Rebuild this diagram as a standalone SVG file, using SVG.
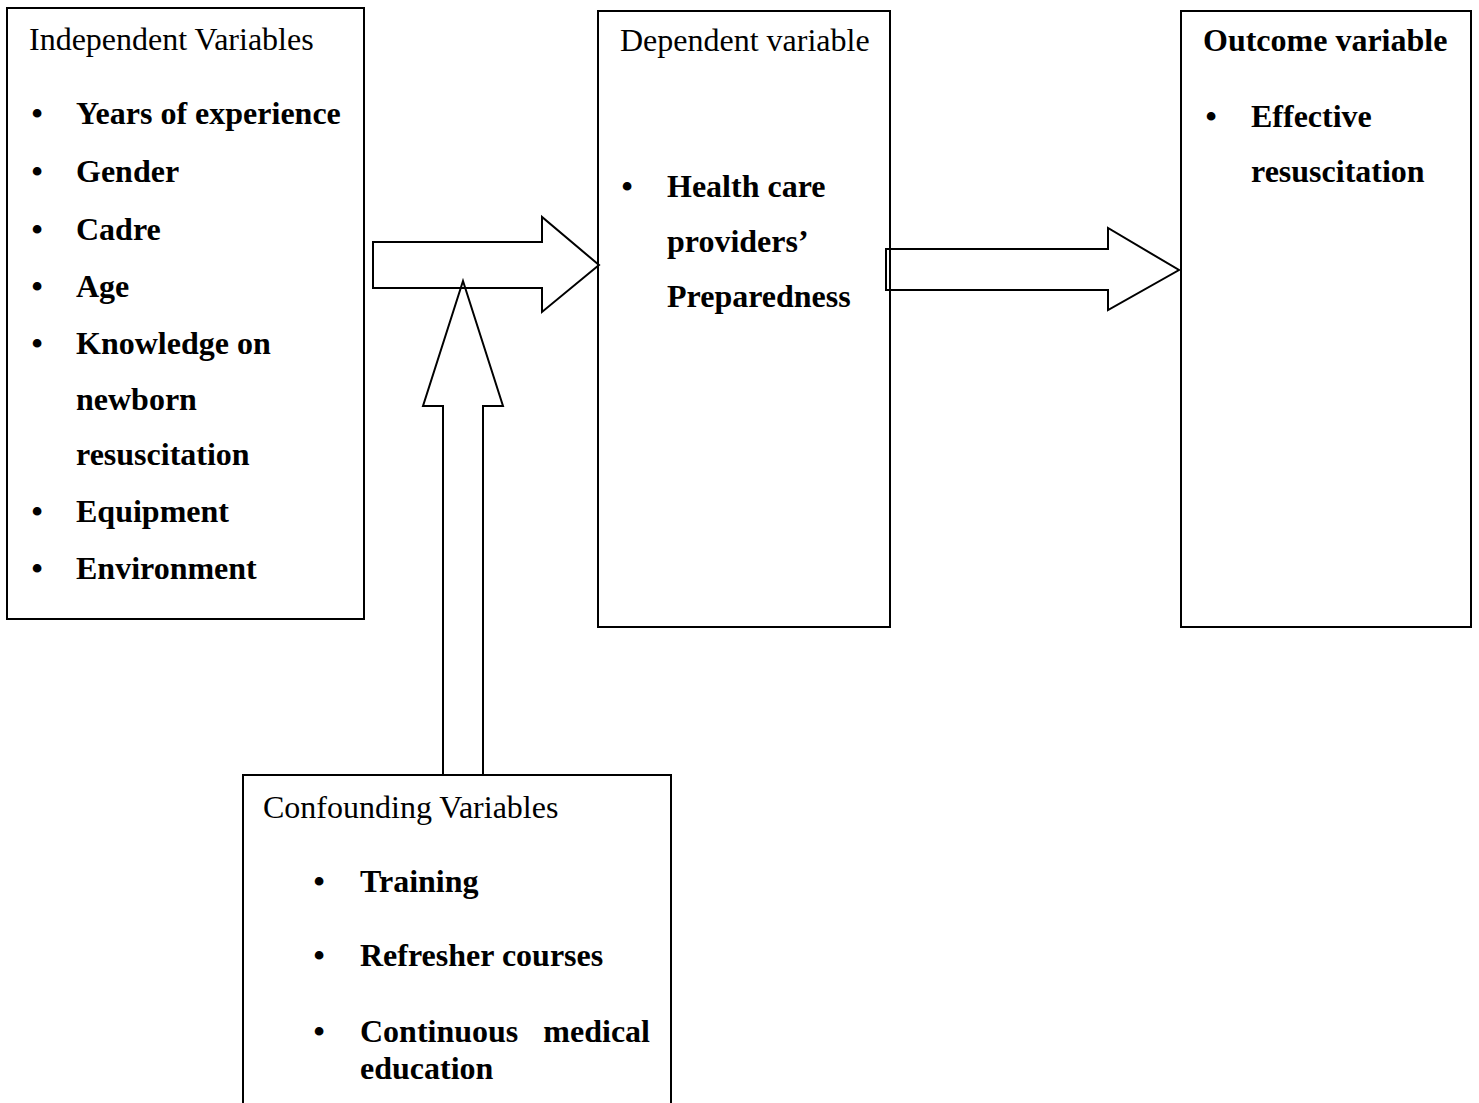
<svg xmlns="http://www.w3.org/2000/svg" width="1479" height="1103" viewBox="0 0 1479 1103">
<style>
.box{fill:#fff;stroke:#000;stroke-width:2}
.arr{fill:none;stroke:#000;stroke-width:2;stroke-linejoin:miter}
text{font-family:"Liberation Serif","Times New Roman",serif;font-size:32px;fill:#000}
.b{font-weight:bold}
.bul{font-weight:bold;text-anchor:middle}
</style>
<rect width="1479" height="1103" fill="#fff"/>
<g id="independent">
<rect class="box" x="7" y="8" width="357" height="611"/>
<text x="29" y="50">Independent Variables</text>
<text class="bul" x="37" y="124">•</text><text class="b" x="76" y="124">Years of experience</text>
<text class="bul" x="37" y="182">•</text><text class="b" x="76" y="182">Gender</text>
<text class="bul" x="37" y="240">•</text><text class="b" x="76" y="240">Cadre</text>
<text class="bul" x="37" y="297">•</text><text class="b" x="76" y="297">Age</text>
<text class="bul" x="37" y="354">•</text><text class="b" x="76" y="354">Knowledge on</text>
<text class="b" x="76" y="410">newborn</text>
<text class="b" x="76" y="465">resuscitation</text>
<text class="bul" x="37" y="522">•</text><text class="b" x="76" y="522">Equipment</text>
<text class="bul" x="37" y="579">•</text><text class="b" x="76" y="579">Environment</text>
</g>
<g id="dependent">
<rect class="box" x="598" y="11" width="292" height="616"/>
<text x="620" y="51">Dependent variable</text>
<text class="bul" x="627" y="197">•</text><text class="b" x="667" y="197">Health care</text>
<text class="b" x="667" y="252">providers’</text>
<text class="b" x="667" y="307">Preparedness</text>
</g>
<g id="outcome">
<rect class="box" x="1181" y="11" width="290" height="616"/>
<text class="b" x="1203" y="51">Outcome variable</text>
<text class="bul" x="1211" y="127">•</text><text class="b" x="1251" y="127">Effective</text>
<text class="b" x="1251" y="182">resuscitation</text>
</g>
<g id="confounding">
<rect class="box" x="243" y="775" width="428" height="340"/>
<text x="263" y="818">Confounding Variables</text>
<text class="bul" x="319" y="892">•</text><text class="b" x="360" y="892">Training</text>
<text class="bul" x="319" y="966">•</text><text class="b" x="360" y="966">Refresher courses</text>
<text class="bul" x="319" y="1042">•</text><text class="b" x="360" y="1042">Continuous</text><text class="b" x="650" y="1042" text-anchor="end">medical</text>
<text class="b" x="360" y="1079">education</text>
</g>
<g id="connectors">
<polygon class="arr" points="373,242 542,242 542,217 599,265 542,312 542,288 373,288"/>
<polygon class="arr" points="463,281 503,406 483,406 483,775 443,775 443,406 423,406"/>
<polygon class="arr" points="886,249 1108,249 1108,228 1179,270 1108,310 1108,290 886,290"/>
</g>
</svg>
